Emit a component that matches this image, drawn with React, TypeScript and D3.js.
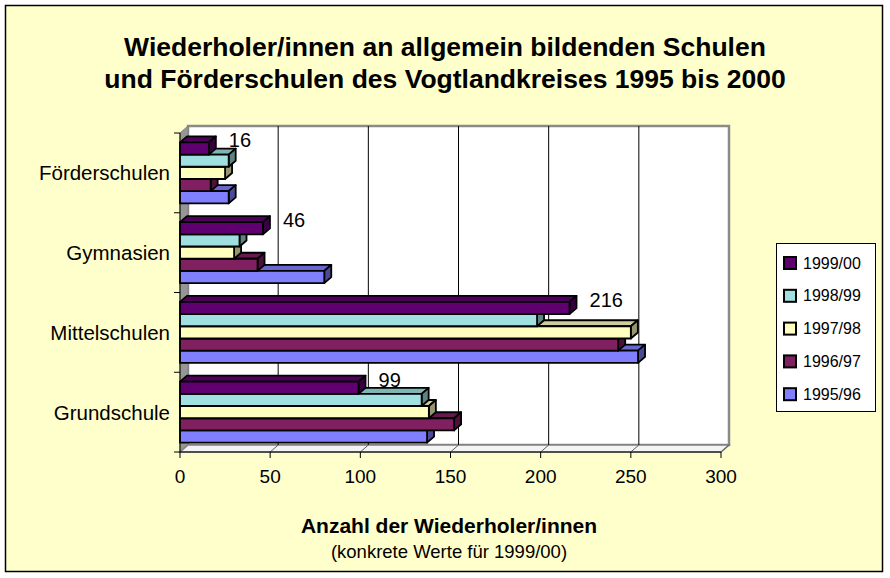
import React, { useRef, useEffect } from "react";
import * as d3 from "d3";

// categories (top to bottom) and series (legend order, top to bottom)
const categories = ["Förderschulen", "Gymnasien", "Mittelschulen", "Grundschule"];
const seriesNames = ["1999/00", "1998/99", "1997/98", "1996/97", "1995/96"];
const seriesColors = ["#600070", "#a0e0e0", "#ffffc0", "#802060", "#8080ff"];

// values per series, in category order
const v1999 = [16, 46, 216, 99];
const v1998 = [27, 33, 198, 134];
const v1997 = [25, 30, 250, 138];
const v1996 = [17, 43, 243, 152];
const v1995 = [27, 80, 254, 137];
const seriesValues = [v1999, v1998, v1997, v1996, v1995];

const xTicks = [0, 50, 100, 150, 200, 250, 300];
const titleLines = [
  "Wiederholer/innen an allgemein bildenden Schulen",
  "und Förderschulen des Vogtlandkreises 1995 bis 2000",
];
const axisTitle = "Anzahl der Wiederholer/innen";
const axisSubtitle = "(konkrete Werte für 1999/00)";

const FONT = "'Liberation Sans', Arial, sans-serif";

const App = () => {
  const svgRef = useRef(null);

  useEffect(() => {
    if (!svgRef.current) return;
    const width = 890;
    const height = 578;

    const svg = d3.select(svgRef.current).attr("width", width).attr("height", height);
    svg.selectAll("*").remove();

    // frame
    svg.append("rect")
      .attr("x", 5.5).attr("y", 5.5)
      .attr("width", 877).attr("height", 566)
      .style("fill", "#ffffcc")
      .style("stroke", "#000")
      .style("stroke-width", 1.5);

    // plot geometry (front plane)
    const left = 180, right = 721, top = 133, bottom = 452;
    const depthX = 8, depthY = -7; // wall depth
    const barDX = 7, barDY = -6;   // bar depth

    const x = d3.scaleLinear().domain([0, 300]).range([left, right]);
    const y = d3.scaleBand().domain(categories).range([top, bottom])
      .paddingInner(0.235).paddingOuter(0.1175);
    const ySeries = d3.scaleBand().domain(seriesNames).range([0, y.bandwidth()]);

    const walls = svg.append("g");
    // back wall
    walls.append("rect")
      .attr("x", left + depthX).attr("y", top + depthY)
      .attr("width", right - left).attr("height", bottom - top)
      .style("fill", "#fff")
      .style("stroke", "#8a8a8a")
      .style("stroke-width", 2.5);
    // left wall
    walls.append("polygon")
      .attr("points", [[left, top], [left + depthX, top + depthY], [left + depthX, bottom + depthY], [left, bottom]].join(" "))
      .style("fill", "#969696")
      .style("stroke", "#808080");
    // floor
    walls.append("polygon")
      .attr("points", [[left, bottom], [left + depthX, bottom + depthY], [right + depthX, bottom + depthY], [right, bottom]].join(" "))
      .style("fill", "#f4f4f4")
      .style("stroke", "#808080")
      .style("stroke-width", 1.5);

    // gridlines on wall and floor
    const grid = xTicks.filter((t) => t > 0 && t < 300);
    walls.selectAll(".grid")
      .data(grid).enter().append("line")
      .attr("x1", (d) => x(d) + depthX).attr("x2", (d) => x(d) + depthX)
      .attr("y1", top + depthY).attr("y2", bottom + depthY)
      .style("stroke", "#000").style("stroke-width", 1);
    walls.selectAll(".floorgrid")
      .data(xTicks.filter((t) => t > 0)).enter().append("line")
      .attr("x1", (d) => x(d) + depthX).attr("y1", bottom + depthY)
      .attr("x2", (d) => x(d)).attr("y2", bottom)
      .style("stroke", "#606060").style("stroke-width", 1);

    // bars: bottom series first so the upper bar covers the lower top face
    const bars = svg.append("g");
    categories.forEach((cat, ci) => {
      for (let si = seriesNames.length - 1; si >= 0; si--) {
        const v = seriesValues[si][ci];
        const base = d3.color(seriesColors[si]);
        const y0 = y(cat) + ySeries(seriesNames[si]);
        const h = ySeries.bandwidth();
        const x0 = x(0), x1 = x(v);
        const g = bars.append("g")
          .style("stroke", "#000")
          .style("stroke-width", 1.8)
          .style("stroke-linejoin", "round");
        g.append("polygon")
          .attr("points", [[x0, y0], [x0 + barDX, y0 + barDY], [x1 + barDX, y0 + barDY], [x1, y0]].join(" "))
          .style("fill", base.darker(0.6).toString());
        g.append("polygon")
          .attr("points", [[x1, y0], [x1 + barDX, y0 + barDY], [x1 + barDX, y0 + h + barDY], [x1, y0 + h]].join(" "))
          .style("fill", base.darker(1.5).toString());
        g.append("rect")
          .attr("x", x0).attr("y", y0)
          .attr("width", x1 - x0).attr("height", h)
          .style("fill", base.toString());
      }
    });

    // value labels for 1999/00
    svg.append("g").selectAll("text")
      .data(categories).enter().append("text")
      .attr("x", (d, i) => x(v1999[i]) + 20)
      .attr("y", (d) => y(d) + ySeries(seriesNames[0]) + ySeries.bandwidth() / 2 - 8)
      .attr("dominant-baseline", "central")
      .style("font-family", FONT).style("font-size", "20px")
      .text((d, i) => v1999[i]);

    // axes
    const axes = svg.append("g").style("stroke", "#000").style("stroke-width", 1);
    axes.append("line").attr("x1", left).attr("x2", left).attr("y1", top).attr("y2", bottom);
    axes.append("line").attr("x1", left).attr("x2", right).attr("y1", bottom).attr("y2", bottom);
    const catEdges = categories.map((c) => y(c) - (y.step() - y.bandwidth()) / 2).concat([bottom]);
    axes.selectAll(".ytick").data(catEdges).enter().append("line")
      .attr("x1", left - 6).attr("x2", left).attr("y1", (d) => d).attr("y2", (d) => d);
    axes.selectAll(".xtick").data(xTicks).enter().append("line")
      .attr("x1", (d) => x(d)).attr("x2", (d) => x(d)).attr("y1", bottom).attr("y2", bottom + 6);

    svg.append("g").selectAll("text")
      .data(xTicks).enter().append("text")
      .attr("x", (d) => x(d)).attr("y", 483)
      .attr("text-anchor", "middle")
      .style("font-family", FONT).style("font-size", "19px")
      .text((d) => d);

    svg.append("g").selectAll("text")
      .data(categories).enter().append("text")
      .attr("x", 170)
      .attr("y", (d) => y(d) + y.bandwidth() / 2)
      .attr("text-anchor", "end")
      .attr("dominant-baseline", "central")
      .style("font-family", FONT).style("font-size", "20.5px")
      .text((d) => d);

    // titles
    svg.append("g").selectAll("text")
      .data(titleLines).enter().append("text")
      .attr("x", 445).attr("y", (d, i) => 56 + i * 32)
      .attr("text-anchor", "middle")
      .style("font-family", FONT).style("font-size", "26.5px").style("font-weight", "bold")
      .text((d) => d);

    svg.append("text")
      .attr("x", 449).attr("y", 533)
      .attr("text-anchor", "middle")
      .style("font-family", FONT).style("font-size", "21px").style("font-weight", "bold")
      .text(axisTitle);
    svg.append("text")
      .attr("x", 449).attr("y", 558)
      .attr("text-anchor", "middle")
      .style("font-family", FONT).style("font-size", "18.5px")
      .text(axisSubtitle);

    // legend
    const legend = svg.append("g");
    legend.append("rect")
      .attr("x", 776.5).attr("y", 243.5).attr("width", 99).attr("height", 168)
      .style("fill", "#fff").style("stroke", "#000");
    const items = legend.selectAll(".item")
      .data(seriesNames).enter().append("g")
      .attr("transform", (d, i) => `translate(784, ${263 + i * 32.8})`);
    items.append("rect")
      .attr("x", 0).attr("y", -6).attr("width", 12).attr("height", 12)
      .style("fill", (d, i) => seriesColors[i])
      .style("stroke", "#000").style("stroke-width", 2);
    items.append("text")
      .attr("x", 19).attr("y", 0)
      .attr("dominant-baseline", "central")
      .style("font-family", FONT).style("font-size", "16px")
      .text((d) => d);
  });

  return (
    <div style={{ position: "absolute", left: 0, top: 0 }}>
      <svg ref={svgRef} style={{ display: "block" }} />
    </div>
  );
};

export default App;
